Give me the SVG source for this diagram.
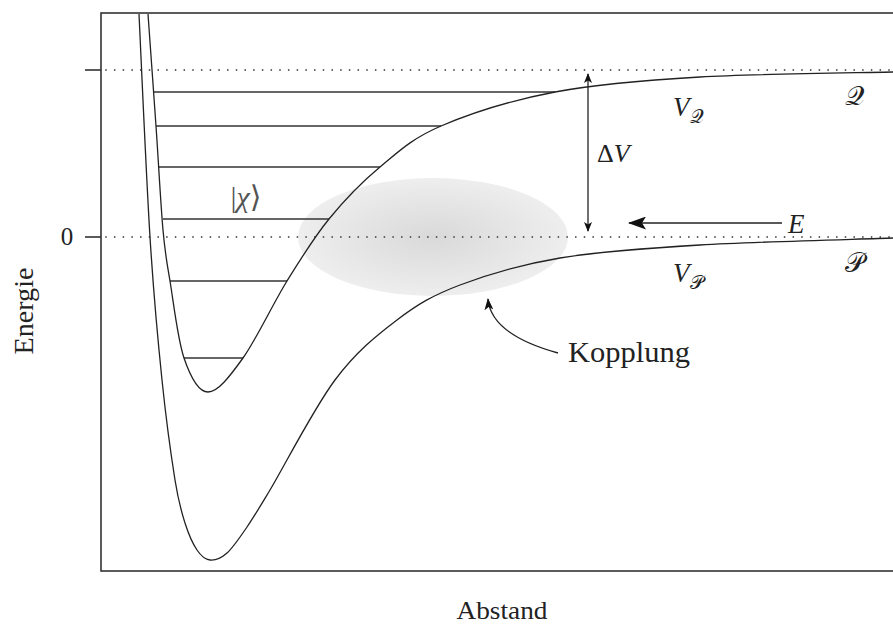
<svg xmlns="http://www.w3.org/2000/svg" width="893" height="624" viewBox="0 0 893 624">
<style>
.frame{fill:none;stroke:#333;stroke-width:1.6}
.curve{fill:none;stroke:#222;stroke-width:1.3}
.level{fill:none;stroke:#333;stroke-width:1.3}
.dot{fill:none;stroke:#555;stroke-width:1.8;stroke-linecap:round;stroke-dasharray:0 8.7}
.arr{fill:none;stroke:#222;stroke-width:1.3}
text{fill:#222}
.i{font-style:italic}
</style>
<defs>
<radialGradient id="g" cx="0.5" cy="0.5" r="0.5">
<stop offset="0" stop-color="#d9d9d9"/>
<stop offset="1" stop-color="#eeeeee"/>
</radialGradient>
<marker id="hs" viewBox="0 0 10 8" refX="9" refY="4" markerWidth="10" markerHeight="8" markerUnits="userSpaceOnUse" orient="auto-start-reverse">
<path d="M0,0 L10,4 L0,8 L2.5,4 Z" fill="#111"/>
</marker>
<marker id="hl" viewBox="0 0 18 13" refX="17" refY="6.5" markerWidth="18" markerHeight="13" markerUnits="userSpaceOnUse" orient="auto">
<path d="M0,0 L18,6.5 L0,13 L4,6.5 Z" fill="#111"/>
</marker>
<marker id="hm" viewBox="0 0 12 9" refX="11" refY="4.5" markerWidth="12" markerHeight="9" markerUnits="userSpaceOnUse" orient="auto">
<path d="M0,0 L12,4.5 L0,9 L3,4.5 Z" fill="#111"/>
</marker>
</defs>

<g id="coupling-region">
<ellipse cx="433" cy="237" rx="135" ry="59" fill="url(#g)"/>
</g>

<g id="axes">
<rect class="frame" x="101" y="13" width="800" height="558"/>
<line class="frame" x1="85" y1="70" x2="101" y2="70"/>
<line class="frame" x1="85" y1="237" x2="101" y2="237"/>
<line class="dot" x1="106" y1="70" x2="893" y2="70"/>
<line class="dot" x1="106" y1="237" x2="893" y2="237"/>
<text x="67" y="245" font-family="Liberation Serif, serif" font-size="25" text-anchor="middle">0</text>
<text transform="translate(33,311) rotate(-90)" font-family="Liberation Serif, serif" font-size="27" text-anchor="middle" textLength="87" lengthAdjust="spacingAndGlyphs">Energie</text>
<text x="502" y="619" font-family="Liberation Serif, serif" font-size="26" text-anchor="middle" textLength="91" lengthAdjust="spacingAndGlyphs">Abstand</text>
</g>

<g id="levels">
<line class="level" x1="153" y1="92" x2="555" y2="92"/>
<line class="level" x1="156" y1="126" x2="441" y2="126"/>
<line class="level" x1="158" y1="167" x2="380" y2="167"/>
<line class="level" x1="163" y1="219" x2="329" y2="219"/>
<line class="level" x1="170" y1="281" x2="287" y2="281"/>
<line class="level" x1="184" y1="358" x2="243" y2="358"/>
<text x="246" y="207" font-family="Liberation Serif, DejaVu Serif, serif" font-size="30" text-anchor="middle" style="fill:#555">|<tspan class="i">χ</tspan>⟩</text>
</g>

<g id="curve-Q">
<path class="curve" d="M148,14 C149.3,32.7 153.5,90 156,126 C158.5,162 160.7,204.2 163,230 C165.3,255.8 166.5,259.7 170,281 C173.5,302.3 177.7,339.5 184,358 C190.3,376.5 198.2,392 208,392 C217.8,392 229.8,376.5 243,358 C256.2,339.5 272.7,304.2 287,281 C301.3,257.8 313.5,238 329,219 C344.5,200 361.3,182.5 380,167 C398.7,151.5 411.8,138.5 441,126 C470.2,113.5 511.8,100.2 555,92 C598.2,83.8 643.7,80.3 700,77 C756.3,73.7 860.8,72.8 893,72"/>
<text x="673" y="116" font-family="Liberation Serif, serif" font-size="27"><tspan class="i">V</tspan><tspan font-size="19" dy="7">𝒬</tspan></text>
<text x="845" y="105" font-family="Liberation Serif, serif" font-size="27">𝒬</text>
</g>

<g id="curve-P">
<path class="curve" d="M139,14 C140.8,51.2 146.2,176 150,237 C153.8,298 157.8,339.5 162,380 C166.2,420.5 171.2,456.2 175,480 C178.8,503.8 181.3,511.3 185,523 C188.7,534.7 192.8,543.8 197,550 C201.2,556.2 205,559.5 210,560 C215,560.5 220.8,558.5 227,553 C233.2,547.5 239.8,537.5 247,527 C254.2,516.5 255.3,514.5 270,490 C284.7,465.5 313.8,408.3 335,380 C356.2,351.7 376.2,335.8 397,320 C417.8,304.2 432.8,295.3 460,285 C487.2,274.7 520,264.7 560,258 C600,251.3 644.5,248.3 700,245 C755.5,241.7 860.8,239.2 893,238"/>
<text x="673" y="282" font-family="Liberation Serif, serif" font-size="27"><tspan class="i">V</tspan><tspan font-size="19" dy="7">𝒫</tspan></text>
<text x="845" y="272" font-family="Liberation Serif, serif" font-size="27">𝒫</text>
</g>

<g id="connectors">
<line class="arr" x1="588" y1="74" x2="588" y2="231" marker-start="url(#hs)" marker-end="url(#hs)"/>
<line class="arr" x1="782" y1="223" x2="629" y2="223" marker-end="url(#hl)"/>
<path class="arr" d="M558,353 Q491,334.5 488,299" marker-end="url(#hm)"/>
</g>

<g id="labels">
<text x="597" y="162" font-family="Liberation Serif, serif" font-size="26">Δ<tspan class="i">V</tspan></text>
<text class="i" x="788" y="233" font-family="Liberation Serif, serif" font-size="27">E</text>
<text x="568" y="362" font-family="Liberation Serif, serif" font-size="29" textLength="122" lengthAdjust="spacingAndGlyphs">Kopplung</text>
</g>
</svg>
